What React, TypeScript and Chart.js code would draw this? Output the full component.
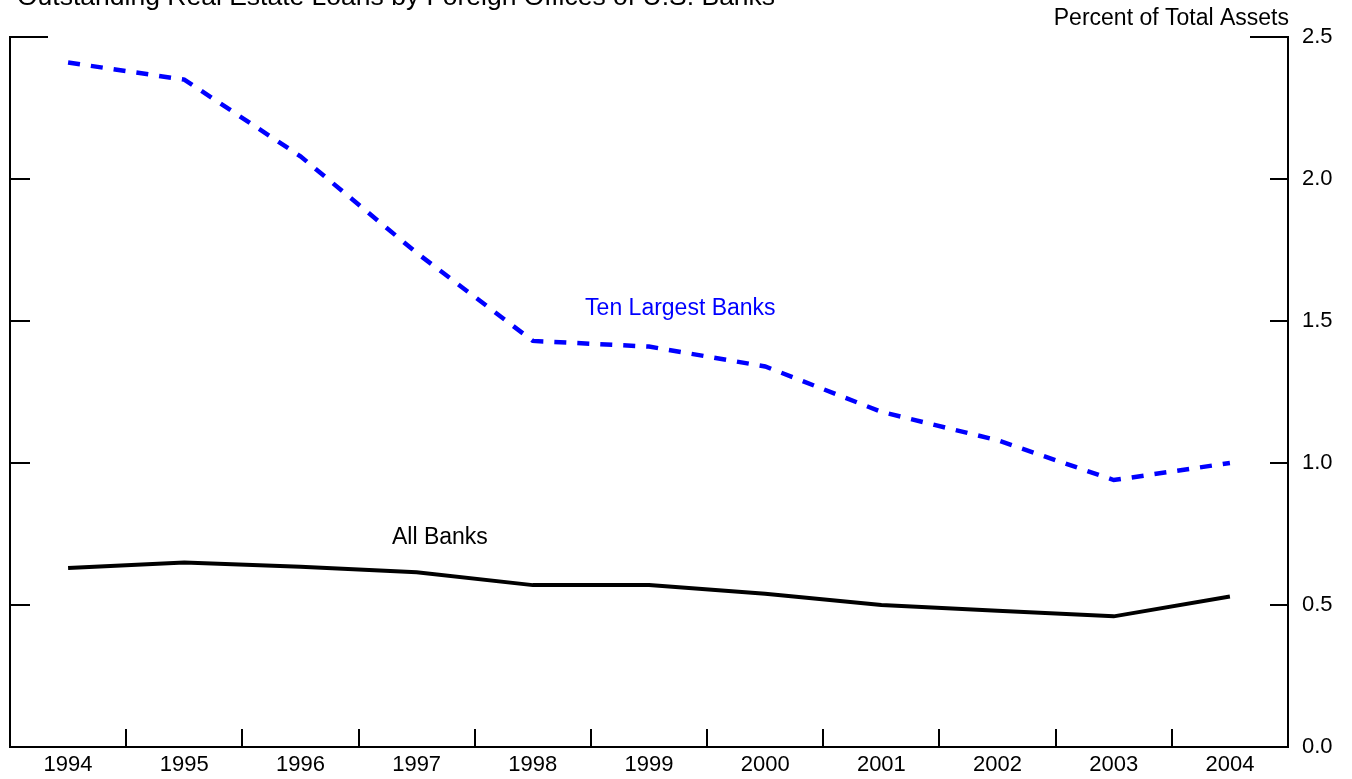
import React, { useEffect, useRef } from "react";
import { Chart, registerables } from "chart.js";

Chart.register(...registerables);

const years = ["1994", "1995", "1996", "1997", "1998", "1999", "2000", "2001", "2002", "2003", "2004"];
const tenLargest = [2.41, 2.35, 2.08, 1.74, 1.43, 1.41, 1.34, 1.18, 1.08, 0.94, 1.0];
const allBanks = [0.63, 0.65, 0.635, 0.615, 0.57, 0.57, 0.54, 0.5, 0.48, 0.46, 0.53];
const yTicks = [0, 0.5, 1.0, 1.5, 2.0, 2.5];

const titleText = "Outstanding Real Estate Loans by Foreign Offices of U.S. Banks";
const unitText = "Percent of Total Assets";
const tenLabel = { text: "Ten Largest Banks", x: 5.27, y: 1.542, color: "#0000ff" };
const allLabel = { text: "All Banks", x: 3.2, y: 0.736, color: "#000000" };

const FONT = "'Liberation Sans', Arial, Helvetica, sans-serif";

export default function App() {
  const ref = useRef<HTMLCanvasElement>(null);

  useEffect(() => {
    const canvas = ref.current!;
    const decor = {
      id: "decor",
      afterDraw(chart: any) {
        const ctx = chart.ctx as CanvasRenderingContext2D;
        const { left, right, top, bottom } = chart.chartArea;
        const xs = chart.scales.x;
        const ys = chart.scales.y;
        ctx.save();
        ctx.strokeStyle = "#000";
        ctx.lineWidth = 2;
        ctx.lineCap = "butt";
        ctx.beginPath();
        // frame: left, bottom, right
        ctx.moveTo(left, top - 1);
        ctx.lineTo(left, bottom);
        ctx.lineTo(right, bottom);
        ctx.lineTo(right, top - 1);
        // bottom ticks between categories
        for (let i = 1; i < years.length; i++) {
          const px = Math.round((xs.getPixelForValue(i - 1) + xs.getPixelForValue(i)) / 2);
          ctx.moveTo(px, bottom);
          ctx.lineTo(px, bottom - 18);
        }
        // y ticks on both sides
        for (const v of yTicks) {
          if (v === 0) continue;
          const py = Math.round(ys.getPixelForValue(v));
          const isTop = v === yTicks[yTicks.length - 1];
          ctx.moveTo(left - 1, py);
          ctx.lineTo(left + (isTop ? 38 : 20), py);
          ctx.moveTo(right + 1, py);
          ctx.lineTo(right - (isTop ? 38 : 18), py);
        }
        ctx.stroke();

        // texts
        ctx.font = `23px ${FONT}`;
        ctx.fillStyle = "#000";
        ctx.textAlign = "right";
        ctx.textBaseline = "alphabetic";
        ctx.fillText(unitText, right + 1, 25);

        ctx.textBaseline = "middle";
        ctx.textAlign = "center";
        for (const lab of [tenLabel, allLabel]) {
          ctx.fillStyle = lab.color;
          ctx.fillText(lab.text, xs.getPixelForValue(lab.x), ys.getPixelForValue(lab.y));
        }

        ctx.font = `26.5px ${FONT}`;
        ctx.fillStyle = "#000";
        ctx.textAlign = "left";
        ctx.textBaseline = "alphabetic";
        ctx.fillText(titleText, 17, 5);
        ctx.restore();
      },
    };

    const chart = new Chart(canvas, {
      type: "line",
      data: {
        labels: years,
        datasets: [
          {
            label: "Ten Largest Banks",
            data: tenLargest,
            borderColor: "#0000ff",
            borderWidth: 4.5,
            borderDash: [12, 11],
            pointRadius: 0,
            fill: false,
            tension: 0,
          },
          {
            label: "All Banks",
            data: allBanks,
            borderColor: "#000000",
            borderWidth: 4,
            pointRadius: 0,
            fill: false,
            tension: 0,
          },
        ],
      },
      options: {
        animation: false,
        responsive: false,
        maintainAspectRatio: false,
        layout: { padding: { left: 10, top: 37, right: 0, bottom: 0 } },
        plugins: {
          legend: { display: false },
          tooltip: { enabled: false },
          title: { display: false },
        },
        scales: {
          x: {
            type: "category",
            offset: true,
            grid: { display: false, drawTicks: false },
            border: { display: false },
            ticks: {
              color: "#000",
              font: { family: FONT, size: 22 },
              padding: 5,
              maxRotation: 0,
              autoSkip: false,
            },
            afterFit(scale: any) {
              scale.height = 32;
            },
          },
          y: {
            position: "right",
            min: 0,
            max: 2.5,
            grid: { display: false, drawTicks: false },
            border: { display: false },
            afterBuildTicks(scale: any) {
              scale.ticks = yTicks.map((v) => ({ value: v }));
            },
            ticks: {
              color: "#000",
              font: { family: FONT, size: 22 },
              padding: 14,
              callback: (v: any) => Number(v).toFixed(1),
            },
            afterFit(scale: any) {
              scale.width = 64;
            },
          },
        },
      },
      plugins: [decor],
    });
    return () => chart.destroy();
  }, []);

  return (
    <div style={{ position: "fixed", left: 0, top: 0, width: 1352, height: 779, background: "#fff" }}>
      <canvas ref={ref} width={1352} height={779} style={{ display: "block" }} />
    </div>
  );
}
